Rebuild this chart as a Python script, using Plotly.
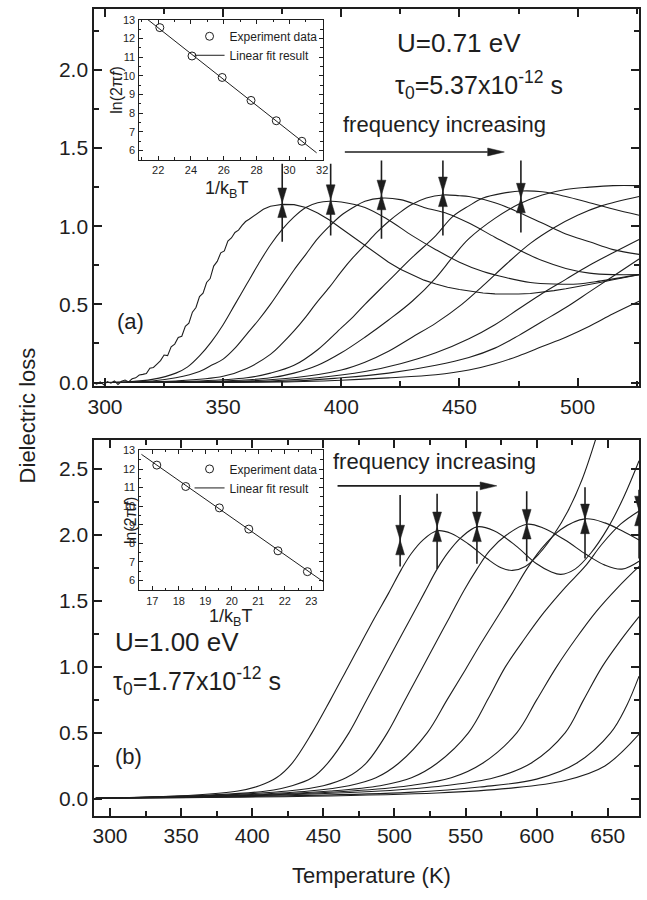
import plotly.graph_objects as go

W, H = 647, 900
FONT = "Liberation Sans, Arial, Helvetica, sans-serif"
INK = "#1e1e1e"

# ---------------- panel (a): U = 0.71 eV ----------------
# lowest-frequency trace carries measurement noise on its rising edge
a1_T = [295, 296.5, 298, 299.5, 301, 302.5, 304, 305.5, 307, 308.5, 310, 311.5, 313, 314.5,
        316, 317.5, 319, 320.5, 322, 323.5, 325, 326.5, 328, 329.5, 331, 332.5, 334, 335.5,
        337, 338.5, 340, 341.5, 343, 344.5, 346, 347.5, 349, 350.5, 352, 353.5, 355, 356.5,
        358, 359.5, 361, 362.5, 364, 365.5, 367, 368.5, 370,
        372, 375, 380, 385, 390, 395, 400, 405, 410, 415, 420, 425, 430, 435, 440, 445, 450,
        455, 460, 465, 470, 475, 480, 485, 490, 495, 500, 505, 510, 515, 520, 526]
a1_V = [0.000, -0.010, 0.004, -0.014, 0.006, -0.004, 0.010, -0.012, 0.008, 0.016, 0.004,
        0.024, 0.030, 0.048, 0.052, 0.058, 0.092, 0.096, 0.118, 0.140, 0.176, 0.172, 0.228,
        0.246, 0.288, 0.296, 0.360, 0.380, 0.450, 0.480, 0.550, 0.572, 0.640, 0.665, 0.745,
        0.775, 0.830, 0.842, 0.905, 0.925, 0.960, 0.975, 1.005, 1.030, 1.045, 1.060, 1.080,
        1.090, 1.108, 1.118, 1.128,
        1.133, 1.140, 1.138, 1.120, 1.085, 1.040, 0.985, 0.930, 0.875, 0.820, 0.770, 0.725,
        0.690, 0.655, 0.630, 0.610, 0.595, 0.582, 0.573, 0.567, 0.565, 0.566, 0.570, 0.578,
        0.588, 0.600, 0.613, 0.627, 0.642, 0.658, 0.673, 0.690]

a2_T = [295, 310, 320, 330, 335, 340, 345, 350, 355, 360, 365, 370, 375, 380, 385, 390, 395,
        400, 410, 420, 430, 440, 450, 460, 470, 480, 490, 500, 510, 526]
a2_V = [0.0, 0.005, 0.02, 0.06, 0.10, 0.17, 0.26, 0.37, 0.50, 0.63, 0.76, 0.88, 0.98, 1.06,
        1.12, 1.15, 1.16, 1.155, 1.12, 1.04, 0.94, 0.85, 0.77, 0.71, 0.67, 0.64, 0.63, 0.63,
        0.65, 0.69]

a3_T = [295, 320, 330, 340, 345, 350, 355, 360, 365, 370, 375, 380, 385, 390, 395, 400, 405,
        410, 417, 425, 435, 445, 454, 465, 475, 485, 495, 505, 515, 526]
a3_V = [0.0, 0.01, 0.03, 0.07, 0.11, 0.15, 0.22, 0.31, 0.40, 0.50, 0.61, 0.72, 0.82, 0.92,
        1.00, 1.07, 1.12, 1.16, 1.18, 1.17, 1.12, 1.08, 1.02, 0.93, 0.85, 0.78, 0.73, 0.70,
        0.69, 0.69]

a4_T = [295, 330, 350, 360, 370, 375, 380, 385, 389, 395, 400, 405, 410, 415, 420, 425, 430,
        436, 443, 450, 454, 465, 475, 485, 495, 505, 515, 526]
a4_V = [0.0, 0.01, 0.04, 0.09, 0.18, 0.25, 0.33, 0.42, 0.50, 0.61, 0.71, 0.80, 0.88, 0.96,
        1.03, 1.09, 1.14, 1.18, 1.20, 1.195, 1.19, 1.15, 1.09, 1.02, 0.95, 0.90, 0.85, 0.82]

a5_T = [295, 340, 360, 370, 380, 390, 400, 405, 410, 420, 430, 440, 447, 454, 460, 468, 476,
        485, 495, 505, 515, 526]
a5_V = [0.0, 0.01, 0.03, 0.06, 0.11, 0.21, 0.35, 0.42, 0.50, 0.65, 0.80, 0.94, 1.06, 1.13,
        1.18, 1.21, 1.225, 1.22, 1.19, 1.15, 1.11, 1.07]

a6_T = [295, 350, 370, 380, 390, 400, 410, 420, 430, 440, 447, 454, 465, 475, 485, 495, 505,
        515, 526]
a6_V = [0.0, 0.01, 0.03, 0.06, 0.11, 0.19, 0.29, 0.40, 0.52, 0.67, 0.80, 0.92, 1.05, 1.14,
        1.20, 1.235, 1.25, 1.26, 1.26]

a7_T = [295, 360, 380, 400, 410, 420, 430, 440, 451, 460, 470, 480, 490, 500, 510, 526]
a7_V = [0.0, 0.01, 0.03, 0.08, 0.13, 0.20, 0.29, 0.38, 0.50, 0.62, 0.76, 0.89, 0.99, 1.07,
        1.13, 1.19]

a8_T = [295, 370, 390, 410, 425, 440, 454, 465, 475, 485, 495, 505, 515, 526]
a8_V = [0.0, 0.01, 0.03, 0.07, 0.12, 0.19, 0.28, 0.37, 0.47, 0.57, 0.66, 0.75, 0.83, 0.915]

a9_T = [295, 380, 400, 420, 440, 454, 465, 475, 485, 495, 505, 515, 526]
a9_V = [0.0, 0.01, 0.03, 0.06, 0.11, 0.16, 0.22, 0.30, 0.39, 0.48, 0.58, 0.68, 0.79]

a10_T = [295, 380, 400, 420, 440, 454, 465, 475, 485, 495, 505, 515, 526]
a10_V = [0.0, 0.005, 0.015, 0.03, 0.05, 0.08, 0.12, 0.17, 0.23, 0.29, 0.36, 0.44, 0.52]

curves_a = [(a2_T, a2_V), (a3_T, a3_V), (a4_T, a4_V), (a5_T, a5_V), (a6_T, a6_V),
            (a7_T, a7_V), (a8_T, a8_V), (a9_T, a9_V), (a10_T, a10_V)]

# loss-peak markers: temperature, tail top, meeting point, tail bottom
peak_a_T = [375, 395.5, 417, 443, 476]
peak_a_top = [1.40, 1.40, 1.42, 1.42, 1.42]
peak_a_mid = [1.15, 1.17, 1.20, 1.22, 1.18]
peak_a_bot = [0.90, 0.94, 0.92, 0.94, 0.96]

# ---------------- panel (b): U = 1.00 eV ----------------
b1_T = [290, 360, 390, 405, 417, 428, 442, 455, 467, 476, 486, 496, 505, 512, 520, 530, 540,
        552, 565, 575, 583, 592, 602, 612, 622, 632, 642]
b1_V = [0.005, 0.03, 0.06, 0.10, 0.16, 0.27, 0.50, 0.75, 0.99, 1.17, 1.37, 1.56, 1.74, 1.86,
        1.96, 2.03, 2.01, 1.93, 1.82, 1.75, 1.73, 1.76, 1.86, 2.00, 2.18, 2.42, 2.74]

b2_T = [290, 370, 410, 428, 442, 453, 468, 480, 492, 502, 512, 521, 530, 538, 547, 558, 570,
        585, 600, 610, 617, 627, 638, 650, 661, 672]
b2_V = [0.005, 0.03, 0.06, 0.10, 0.16, 0.27, 0.50, 0.74, 0.98, 1.18, 1.38, 1.56, 1.74, 1.87,
        1.98, 2.06, 2.03, 1.92, 1.78, 1.72, 1.70, 1.74, 1.86, 2.05, 2.28, 2.56]

b3_T = [290, 380, 425, 450, 466, 480, 495, 507, 519, 529, 539, 549, 558, 567, 579, 593, 605,
        620, 635, 648, 660, 672]
b3_V = [0.005, 0.03, 0.06, 0.10, 0.16, 0.27, 0.50, 0.74, 0.98, 1.18, 1.38, 1.58, 1.74, 1.88,
        2.00, 2.08, 2.05, 1.96, 1.85, 1.77, 1.74, 1.80]

b4_T = [290, 390, 440, 468, 487, 503, 523, 537, 550, 561, 572, 583, 593, 603, 617, 634, 648,
        660, 672]
b4_V = [0.005, 0.03, 0.06, 0.10, 0.16, 0.27, 0.50, 0.75, 0.98, 1.18, 1.37, 1.56, 1.74, 1.89,
        2.04, 2.12, 2.09, 2.03, 1.96]

b5_T = [290, 400, 455, 490, 512, 530, 552, 566, 578, 592, 605, 620, 634, 646, 659, 672]
b5_V = [0.005, 0.03, 0.06, 0.10, 0.16, 0.27, 0.50, 0.76, 1.00, 1.22, 1.41, 1.60, 1.76, 1.93,
        2.08, 2.18]

b6_T = [290, 410, 470, 510, 540, 562, 586, 600, 614, 628, 642, 657, 672]
b6_V = [0.005, 0.03, 0.06, 0.10, 0.16, 0.27, 0.50, 0.75, 1.00, 1.22, 1.42, 1.60, 1.76]

b7_T = [290, 420, 490, 535, 570, 596, 620, 633, 646, 659, 672]
b7_V = [0.005, 0.03, 0.06, 0.10, 0.16, 0.27, 0.50, 0.75, 1.00, 1.20, 1.38]

b8_T = [290, 430, 510, 560, 600, 628, 652, 663, 672]
b8_V = [0.005, 0.025, 0.05, 0.09, 0.15, 0.27, 0.50, 0.70, 0.93]

b9_T = [290, 440, 530, 580, 620, 648, 672]
b9_V = [0.005, 0.02, 0.045, 0.08, 0.14, 0.25, 0.49]

curves_b = [(b1_T, b1_V), (b2_T, b2_V), (b3_T, b3_V), (b4_T, b4_V), (b5_T, b5_V),
            (b6_T, b6_V), (b7_T, b7_V), (b8_T, b8_V), (b9_T, b9_V)]

peak_b_T = [504, 530, 558, 593, 634, 672]
peak_b_top = [2.30, 2.31, 2.33, 2.33, 2.36, 2.34]
peak_b_mid = [1.96, 2.06, 2.06, 2.08, 2.12, 2.18]
peak_b_bot = [1.76, 1.74, 1.78, 1.80, 1.82, 1.82]

# ---------------- insets: Arrhenius plots ----------------
inv_kT_a = [22.10, 24.06, 25.90, 27.66, 29.20, 30.76]
ln_w_a = [12.58, 11.06, 9.91, 8.68, 7.59, 6.49]
fit_a_x = [21.12, 31.66]
fit_a_y = [13.18, 5.87]

inv_kT_b = [17.17, 18.26, 19.53, 20.64, 21.74, 22.85]
ln_w_b = [12.21, 11.06, 9.91, 8.77, 7.60, 6.48]
fit_b_x = [16.59, 23.44]
fit_b_y = [12.79, 5.95]

# ---------------- layout geometry (pixels) ----------------
def xdom(l, r):
    return [l / W, r / W]


def ydom(top, bottom):
    return [1 - bottom / H, 1 - top / H]


DOM_X = xdom(89, 644)
DOM_A_Y = ydom(3, 386)
DOM_B_Y = ydom(440, 822)
INS_X = xdom(134, 322)
INS_A_Y = ydom(14, 156)
INS_B_Y = ydom(450, 593)

TA_RANGE = [295.5, 526]
VA_RANGE = [-0.025, 2.39]
TB_RANGE = [289, 672]
VB_RANGE = [-0.13, 2.72]

fig = go.Figure()

line_style = dict(color=INK, width=1.1)
fig.add_trace(go.Scatter(x=a1_T, y=a1_V, mode="lines", line=line_style,
                         xaxis="x", yaxis="y", showlegend=False, hoverinfo="skip"))
for T, V in curves_a:
    fig.add_trace(go.Scatter(x=T, y=V, mode="lines", line=line_style, line_shape="spline",
                             xaxis="x", yaxis="y", showlegend=False, hoverinfo="skip"))
for T, V in curves_b:
    fig.add_trace(go.Scatter(x=T, y=V, mode="lines", line=line_style, line_shape="spline",
                             xaxis="x2", yaxis="y2", showlegend=False, hoverinfo="skip"))


def units_per_px(rng, dom, size):
    return (rng[1] - rng[0]) / ((dom[1] - dom[0]) * size)


def add_peak_markers(Ts, tops, mids, bots, xr, yr, ydomain, xa, ya):
    ux = units_per_px(xr, DOM_X, W)
    uy = units_per_px(yr, ydomain, H)
    hw, hl = 4.5 * ux, 15 * uy
    sx, sy, tx, ty = [], [], [], []
    for T, t, m, b in zip(Ts, tops, mids, bots):
        sx += [T, T, None]
        sy += [t, b, None]
        tx += [T - hw, T + hw, T, T - hw, None, T - hw, T + hw, T, T - hw, None]
        ty += [m + hl, m + hl, m, m + hl, None, m - hl, m - hl, m, m - hl, None]
    fig.add_trace(go.Scatter(x=sx, y=sy, mode="lines", line=dict(color=INK, width=1.6),
                             xaxis=xa, yaxis=ya, showlegend=False, hoverinfo="skip",
                             cliponaxis=False))
    fig.add_trace(go.Scatter(x=tx, y=ty, mode="lines", fill="toself", fillcolor=INK,
                             line=dict(color=INK, width=0.5), xaxis=xa, yaxis=ya,
                             showlegend=False, hoverinfo="skip", cliponaxis=False))


def add_h_arrow(x0, x1, y, xr, yr, ydomain, xa, ya):
    ux = units_per_px(xr, DOM_X, W)
    uy = units_per_px(yr, ydomain, H)
    hl, hw = 17 * ux, 4 * uy
    fig.add_trace(go.Scatter(x=[x0, x1 - hl], y=[y, y], mode="lines",
                             line=dict(color=INK, width=1.6), xaxis=xa, yaxis=ya,
                             showlegend=False, hoverinfo="skip"))
    fig.add_trace(go.Scatter(x=[x1 - hl, x1 - hl, x1, x1 - hl], y=[y - hw, y + hw, y, y - hw],
                             mode="lines", fill="toself", fillcolor=INK,
                             line=dict(color=INK, width=0.5), xaxis=xa, yaxis=ya,
                             showlegend=False, hoverinfo="skip"))


add_peak_markers(peak_a_T, peak_a_top, peak_a_mid, peak_a_bot, TA_RANGE, VA_RANGE, DOM_A_Y, "x", "y")
add_peak_markers(peak_b_T, peak_b_top, peak_b_mid, peak_b_bot, TB_RANGE, VB_RANGE, DOM_B_Y, "x2", "y2")
add_h_arrow(401.5, 469, 1.475, TA_RANGE, VA_RANGE, DOM_A_Y, "x", "y")
add_h_arrow(460, 572, 2.37, TB_RANGE, VB_RANGE, DOM_B_Y, "x2", "y2")

# inset traces
for (xs, ys, fx, fy, xa, ya, leg) in [
        (inv_kT_a, ln_w_a, fit_a_x, fit_a_y, "x3", "y3", "legend"),
        (inv_kT_b, ln_w_b, fit_b_x, fit_b_y, "x4", "y4", "legend2")]:
    fig.add_trace(go.Scatter(x=xs, y=ys, mode="markers", name="Experiment data",
                             marker=dict(symbol="circle-open", size=8, color=INK,
                                         line=dict(width=1, color=INK)),
                             xaxis=xa, yaxis=ya, legend=leg, hoverinfo="skip"))
    fig.add_trace(go.Scatter(x=fx, y=fy, mode="lines", name="Linear fit result",
                             line=dict(color=INK, width=1), xaxis=xa, yaxis=ya, legend=leg,
                             hoverinfo="skip", cliponaxis=False))


def main_axis(rng, dom, dtick, minor, fmt=None, **kw):
    d = dict(range=rng, domain=dom, dtick=dtick, showline=True, linecolor=INK, linewidth=2,
             mirror="allticks", ticks="inside", ticklen=8, tickwidth=2, tickcolor=INK,
             minor=dict(ticks="inside", ticklen=5, tickwidth=1.5, tickcolor=INK, dtick=minor),
             showgrid=False, zeroline=False,
             tickfont=dict(family=FONT, size=21, color=INK))
    if fmt:
        d["tickformat"] = fmt
    d.update(kw)
    return d


def inset_axis(rng, dom, dtick, minor, **kw):
    d = dict(range=rng, domain=dom, dtick=dtick, showline=True, linecolor=INK, linewidth=1.2,
             mirror="allticks", ticks="inside", ticklen=4, tickwidth=1, tickcolor=INK,
             minor=dict(ticks="inside", ticklen=2.5, tickwidth=1, tickcolor=INK, dtick=minor),
             showgrid=False, zeroline=False,
             tickfont=dict(family=FONT, size=11, color=INK))
    d.update(kw)
    return d


def px(x, y):
    return dict(xref="paper", yref="paper", x=x / W, y=1 - y / H)


def text(x, y, s, size, xanchor="left", **kw):
    d = px(x, y)
    d.update(text=s, showarrow=False, xanchor=xanchor, yanchor="middle",
             font=dict(family=FONT, size=size, color=INK))
    d.update(kw)
    return d


annotations = [
    text(395, 38, "U=0.71 eV", 26),
    text(393, 80, "τ<sub>0</sub>=5.37x10<sup>-12</sup> s", 25),
    text(340, 120, "frequency increasing", 22),
    text(110, 320, "(a)", 22),
    text(330, 462, "frequency increasing", 22),
    text(108, 645, "U=1.00 eV", 26),
    text(106, 685, "τ<sub>0</sub>=1.77x10<sup>-12</sup> s", 25),
    text(108, 762, "(b)", 22),
    text(6, 415, "Dielectric loss", 22, xanchor="left", textangle=-90),
    text(371, 882, "Temperature (K)", 22, xanchor="center"),
    text(112, 85, "ln(2π<i>f</i>)", 16, xanchor="center", textangle=-90),
    text(224, 186, "1/k<sub>B</sub>T", 18, xanchor="center"),
    text(126, 522, "ln(2π<i>f</i>)", 16, xanchor="center", textangle=-90),
    text(228, 620, "1/k<sub>B</sub>T", 18, xanchor="center"),
]

legend_style = dict(font=dict(family=FONT, size=12, color=INK), bgcolor="rgba(0,0,0,0)",
                    borderwidth=0, xanchor="left", yanchor="top", tracegroupgap=0,
                    itemwidth=30)

fig.update_layout(
    width=W, height=H, margin=dict(l=0, r=0, t=0, b=0),
    paper_bgcolor="white", plot_bgcolor="white",
    xaxis=main_axis(TA_RANGE, DOM_X, 50, 25, anchor="y"),
    yaxis=main_axis(VA_RANGE, DOM_A_Y, 0.5, 0.25, ".1f", anchor="x"),
    xaxis2=main_axis(TB_RANGE, DOM_X, 50, 25, anchor="y2"),
    yaxis2=main_axis(VB_RANGE, DOM_B_Y, 0.5, 0.25, ".1f", anchor="x2"),
    xaxis3=inset_axis([20.8, 32.05], INS_X, 2, 1, anchor="y3"),
    yaxis3=inset_axis([5.5, 13.0], INS_A_Y, 1, 0.5, anchor="x3"),
    xaxis4=inset_axis([16.48, 23.44], INS_X, 1, 0.5, anchor="y4"),
    yaxis4=inset_axis([5.47, 13.05], INS_B_Y, 1, 0.5, anchor="x4"),
    legend=dict(x=186 / W, y=1 - 16 / H, **legend_style),
    legend2=dict(x=186 / W, y=1 - 455 / H, **legend_style),
    annotations=annotations,
)

fig.write_html("out.html")
